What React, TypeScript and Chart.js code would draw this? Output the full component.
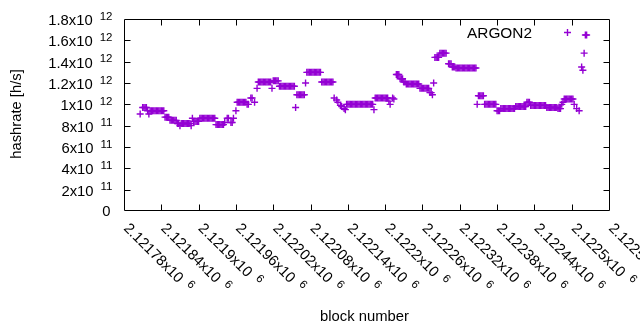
import { useEffect, useRef } from "react";
import { Chart, registerables } from "chart.js";

Chart.register(...registerables);

// ---- data ----
const seriesName = "ARGON2";
const firstBlock = 2121806; // block number of the first sample
const blockStep = 2; // blocks between consecutive samples
// hashrate per sample, in units of 1e10 h/s (null = no point)
const hashrateE10: (number | null)[] = [
  91, null, 97, 97, 97, 97, 94, 91, 94, 94,
  94, 94, 94, 94, 94, 94, 94, 94, 94, 94,
  88, 88, 88, 88, 85, 85, 85, 85, 85, 85,
  82, 82, 80, 82, 82, 82, 82, 82, 82, 82,
  82, 80, 87, 84, 84, 84, 84, 84, 87, 87,
  87, 87, 87, 87, 87, 87, 87, 87, 87, 87,
  87, 81, 81, 81, 81, 81, 81, 81, 83, null,
  87, 87, null, 83, 83, 87, null, 94, 102, 102,
  102, 102, 102, 102, 102, 102, 100, 100, null, 106,
  106, null, 102, null, 115, 121, 121, 121, 121, 121,
  121, 121, 121, 121, 121, 121, 115, 122, 122, 122,
  122, 122, 117, 117, 117, 117, 117, 117, 117, 117,
  117, 117, 117, 117, 117, 97, 109, 109, 109, 109,
  109, 109, 109, 120, 130, 130, 130, 130, 130, 130,
  130, 130, 130, 130, 130, 130, 121, 121, 121, 121,
  121, 121, 121, 121, 121, 121, 106, null, 104, 102,
  null, 99, 98, null, 96, 95, 100, 100, 100, 100,
  100, 100, 100, 100, 100, 100, 100, 100, 100, 100,
  100, 100, 100, 100, 100, 100, 100, 100, 95, 106,
  106, 106, 106, 106, 106, 106, 106, 106, 106, 106,
  103, 100, null, 106, 105, null, 128, 128, 128, 124,
  124, 124, 121, 121, 119, 119, 119, 119, 119, 119,
  119, 119, 119, 119, 119, 115, 115, 115, 115, 115,
  115, 115, 115, 111, 111, 109, 120, 144, 144, 144,
  144, 148, 148, 148, 148, 148, 148, null, 138, 138,
  138, 135, 135, 135, 134, 134, 134, 134, 134, 134,
  134, 134, 134, 134, 134, 134, 134, 134, 134, 134,
  134, 100, 108, 108, 108, 108, 108, 100, 100, 100,
  100, 100, 100, 100, 100, 100, 100, 94, 94, 94,
  96, 96, 96, 96, 96, 96, 96, 96, 96, 96,
  96, 96, 98, 98, 98, 98, 98, 98, 98, 98,
  98, 102, 102, 102, 99, 99, 99, 99, 99, 99,
  99, 99, 99, 99, 99, 99, 99, 97, 97, 97,
  97, 97, 97, 97, 97, 97, 96, 96, 96, 100,
  102, 105, 105, 105, 105, 105, 105, 105, 105, 100,
  null, 96, null, 94, null, 135, 132, 148, 165, 165,
];

const xMin = 2121780;
const xMax = 2122560;
const xTickValues = [
  2121780, 2121840, 2121900, 2121960, 2122020, 2122080, 2122140,
  2122200, 2122260, 2122320, 2122380, 2122440, 2122500, 2122560,
];
const xTickMantissa = [
  "2.12178x10", "2.12184x10", "2.1219x10", "2.12196x10", "2.12202x10",
  "2.12208x10", "2.12214x10", "2.1222x10", "2.12226x10", "2.12232x10",
  "2.12238x10", "2.12244x10", "2.1225x10", "2.12256x10",
];
const xTickExponent = ["6", "6", "6", "6", "6", "6", "6", "6", "6", "6", "6", "6", "6", "6"];

const yMin = 0;
const yMax = 1.8e12;
const yTickValues = [0, 2e11, 4e11, 6e11, 8e11, 1e12, 1.2e12, 1.4e12, 1.6e12, 1.8e12];
const yTickMantissa = ["0", "2x10", "4x10", "6x10", "8x10", "1x10", "1.2x10", "1.4x10", "1.6x10", "1.8x10"];
const yTickExponent = ["", "11", "11", "11", "11", "12", "12", "12", "12", "12"];

const xTitle = "block number";
const yTitle = "hashrate [h/s]";

// ---- style ----
const COLOR = "#9400d3";
const FONT = '"Liberation Sans", Arial, sans-serif';
const MAIN_SIZE = 14.8;
const SUP_SIZE = 11.5;
const KEY_SIZE = 15.4;
const TICK_LEN = 6;

const gnuplotFrame = {
  id: "gnuplotFrame",
  afterDraw(chart: any) {
    const { ctx, chartArea: a, scales } = chart;
    const xs = scales.x;
    const ys = scales.y;
    ctx.save();
    ctx.strokeStyle = "#000";
    ctx.fillStyle = "#000";
    ctx.lineWidth = 1;

    const L = Math.round(a.left) + 0.5;
    const R = Math.round(a.right) + 0.5;
    const T = Math.round(a.top) + 0.5;
    const B = Math.round(a.bottom) - 0.5;

    // border
    ctx.beginPath();
    ctx.rect(L, T, R - L, B - T);
    ctx.stroke();

    // ticks (inward, mirrored)
    ctx.beginPath();
    yTickValues.forEach((v) => {
      const py = Math.round(ys.getPixelForValue(v)) + 0.5;
      if (py <= T + 1 || py >= B - 1) return;
      ctx.moveTo(L, py);
      ctx.lineTo(L + TICK_LEN, py);
      ctx.moveTo(R, py);
      ctx.lineTo(R - TICK_LEN, py);
    });
    xTickValues.forEach((v) => {
      const px = Math.round(xs.getPixelForValue(v)) + 0.5;
      if (px <= L + 1 || px >= R - 1) return;
      ctx.moveTo(px, B);
      ctx.lineTo(px, B - TICK_LEN);
      ctx.moveTo(px, T);
      ctx.lineTo(px, T + TICK_LEN);
    });
    ctx.stroke();

    // y tick labels
    ctx.textBaseline = "alphabetic";
    ctx.textAlign = "left";
    yTickValues.forEach((v, i) => {
      const py = ys.getPixelForValue(v);
      const main = yTickMantissa[i];
      const sup = yTickExponent[i];
      ctx.font = `${MAIN_SIZE}px ${FONT}`;
      const mw = ctx.measureText(main).width;
      if (!sup) {
        ctx.fillText(main, 110.5 - mw, py + 5);
        return;
      }
      ctx.font = `${SUP_SIZE}px ${FONT}`;
      const sw = ctx.measureText(sup).width;
      const gap = 7;
      const x0 = 112.5 - sw - gap - mw;
      ctx.font = `${MAIN_SIZE}px ${FONT}`;
      ctx.fillText(main, x0, py + 6);
      ctx.font = `${SUP_SIZE}px ${FONT}`;
      ctx.fillText(sup, x0 + mw + gap, py + 0.5);
    });

    // x tick labels, rotated -45deg (down-right)
    xTickValues.forEach((v, i) => {
      const px = xs.getPixelForValue(v);
      ctx.save();
      ctx.translate(px - 1, 229);
      ctx.rotate(Math.PI / 4);
      ctx.font = `${MAIN_SIZE}px ${FONT}`;
      const main = xTickMantissa[i];
      const mw = ctx.measureText(main).width;
      ctx.fillText(main, 0, 0);
      ctx.font = `${SUP_SIZE}px ${FONT}`;
      ctx.fillText(xTickExponent[i], mw + 7, -5.5);
      ctx.restore();
    });

    // axis titles
    ctx.font = `${MAIN_SIZE}px ${FONT}`;
    ctx.textAlign = "center";
    ctx.fillText(xTitle, 364.5, 321);
    ctx.save();
    ctx.translate(21, 114);
    ctx.rotate(-Math.PI / 2);
    ctx.fillText(yTitle, 0, 0);
    ctx.restore();

    // key
    ctx.font = `${KEY_SIZE}px ${FONT}`;
    ctx.textAlign = "right";
    ctx.fillText(seriesName, 532, 37.5);
    ctx.strokeStyle = COLOR;
    ctx.lineWidth = 1.4;
    ctx.beginPath();
    const kx = 567.5, ky = 32.5, r = 3.5;
    ctx.moveTo(kx - r, ky);
    ctx.lineTo(kx + r, ky);
    ctx.moveTo(kx, ky - r);
    ctx.lineTo(kx, ky + r);
    ctx.stroke();

    ctx.restore();
  },
};

export default function App() {
  const ref = useRef<HTMLCanvasElement | null>(null);

  useEffect(() => {
    document.body.style.margin = "0";
    const canvas = ref.current;
    if (!canvas) return;
    const points = hashrateE10
      .map((v, i) => (v === null ? null : { x: firstBlock + i * blockStep, y: v * 1e10 }))
      .filter((p) => p !== null) as { x: number; y: number }[];

    const chart = new Chart(canvas, {
      type: "scatter",
      data: {
        datasets: [
          {
            label: seriesName,
            data: points,
            pointStyle: "cross",
            pointRadius: 3.5,
            pointHoverRadius: 3.5,
            borderColor: COLOR,
            backgroundColor: COLOR,
            borderWidth: 1.4,
            showLine: false,
          },
        ],
      },
      options: {
        animation: false,
        responsive: false,
        maintainAspectRatio: false,
        events: [],
        layout: { padding: { top: 19, right: 31, left: 0, bottom: 0 } },
        plugins: { legend: { display: false }, tooltip: { enabled: false } },
        scales: {
          x: {
            type: "linear",
            min: xMin,
            max: xMax,
            ticks: { display: false, stepSize: 60 },
            grid: { display: false },
            border: { display: false },
            afterFit: (s: any) => {
              s.height = 330 - 211;
            },
          },
          y: {
            type: "linear",
            min: yMin,
            max: yMax,
            ticks: { display: false, stepSize: 2e11 },
            grid: { display: false },
            border: { display: false },
            afterFit: (s: any) => {
              s.width = 124;
            },
          },
        },
      },
      plugins: [gnuplotFrame],
    });
    return () => chart.destroy();
  }, []);

  return (
    <div style={{ position: "absolute", left: 0, top: 0, width: 640, height: 330, background: "#fff" }}>
      <canvas ref={ref} width={640} height={330} style={{ width: 640, height: 330, display: "block" }} />
    </div>
  );
}
